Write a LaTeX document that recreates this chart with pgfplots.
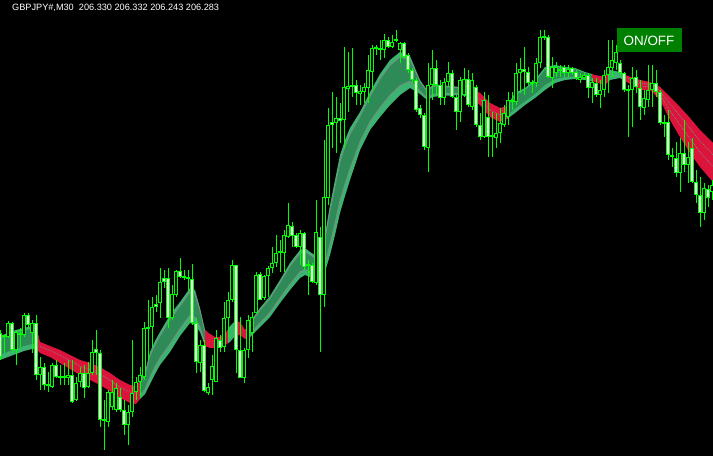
\documentclass[border=0pt]{standalone}
\usepackage{pgfplots}
\pgfplotsset{compat=1.18}
\usepackage{pgfplotstable}
\usepgfplotslibrary{fillbetween}
\usepackage{fontspec}
\setmainfont{Liberation Sans}
\definecolor{lightg}{RGB}{60,179,113}
\definecolor{darkg}{RGB}{46,139,87}
\definecolor{crim}{RGB}{220,20,60}
\definecolor{btn}{RGB}{0,128,0}
\definecolor{lime}{RGB}{0,255,0}
\definecolor{mgray}{RGB}{128,140,134}

\pgfplotstableread{
x t b
0 336 360
8 333 357
16 330 354
24 328 351
32 326 349
36 326 349
40 342 353
50 346 357
60 350 363
70 355 369
80 360 375
90 363 380
100 367 385
110 373 391
120 380 398
130 385 403
136 386 404
140 381 399
145 372 394
150 352 384
155 341 374
160 332 365
170 315 352
180 302 336
190 288 323
195 290 325
200 308 332
205 330 346
210 334 348
215 337 348
220 337 347
225 334 345
230 326 342
235 321 336
240 322 335
245 330 339
250 322 337
260 308 327
270 296 317
280 280 303
290 263 290
300 250 278
305 248 275
310 252 277
318 257 280
325 235 272
330 205 255
335 180 235
340 155 213
345 140 196
350 128 180
360 112 150
370 92 130
380 74 117
390 60 105
400 52 95
410 56 88
420 80 94
427 90 100
433 85 97
440 85 96
460 87 95
470 88 97
480 93 105
490 103 117
500 108 122
507 106 119
515 93 113
525 88 105
535 80 98
545 67 90
555 65 83
565 67 80
575 68 79
585 72 80
595 75 82
605 77 85
610 70 80
620 72 78
625 75 81
640 80 90
650 82 90
660 87 100
670 97 120
680 107 137
690 118 153
700 130 167
713 143 182
}\rib

\pgfplotstableread{
x o h l c
0 333 330 360 357
4 337 335 353 335
8 337 321 338 323
12 323 322 353 350
16 350 330 365 332
20 335 328 347 333
24 335 313 337 315
28 315 313 328 325
32 333 320 353 323
36 323 315 380 375
40 375 357 390 367
44 367 363 390 385
48 385 372 392 385
52 387 363 388 365
56 365 360 378 377
60 377 365 385 377
64 377 363 385 377
68 378 360 385 375
72 375 360 403 402
76 400 377 401 383
80 382 367 387 373
84 373 365 398 388
88 387 362 388 373
92 373 340 375 352
96 349 330 375 353
100 353 350 427 420
104 420 400 450 420
108 422 390 427 392
112 407 380 410 392
116 410 383 412 388
120 397 388 412 410
124 410 400 435 425
128 425 405 445 412
132 412 340 417 393
136 392 377 400 382
140 382 367 397 375
144 377 322 380 328
148 327 300 360 329
152 327 297 347 307
156 304 295 312 307
160 303 268 318 282
164 278 270 288 282
168 278 268 328 318
172 318 285 320 294
176 295 270 297 271
180 271 258 278 277
184 277 270 280 277
188 277 270 290 279
192 279 264 325 323
196 323 318 373 362
200 363 340 372 345
204 345 340 392 391
208 393 383 395 387
212 380 355 395 366
216 382 330 382 338
220 340 335 352 348
224 347 302 352 318
228 318 292 338 300
232 300 260 302 265
236 265 265 373 350
240 350 317 378 378
244 378 348 383 350
248 350 315 358 320
252 333 312 352 317
256 313 272 313 275
260 274 272 300 300
264 298 275 300 276
268 276 266 297 268
272 268 247 273 263
276 263 235 267 253
280 252 240 272 252
284 253 230 272 235
288 237 203 238 225
292 226 222 247 236
296 235 233 248 247
300 247 230 265 233
304 233 232 270 267
308 265 260 295 265
312 265 263 283 282
316 283 200 285 232
320 237 227 352 295
324 295 140 307 197
328 198 108 205 125
332 122 92 148 125
336 123 97 153 118
340 118 103 143 121
344 120 47 148 87
348 89 52 112 86
352 87 48 97 85
356 85 80 105 93
360 94 85 105 91
364 92 83 103 87
368 88 55 103 70
372 72 45 90 48
376 48 45 55 48
380 50 40 60 48
384 50 34 58 40
388 40 37 48 47
392 47 35 48 42
396 40 30 42 40
400 50 42 63 43
404 43 42 58 57
408 55 53 73 70
412 70 68 83 80
416 80 78 112 110
420 108 105 118 115
424 115 113 150 147
428 148 63 172 85
432 85 50 100 68
436 68 60 95 85
440 85 80 105 98
444 98 78 105 82
448 82 62 87 73
452 73 70 98 97
456 97 95 130 112
460 112 77 122 80
464 95 68 97 79
468 79 70 107 105
472 107 73 110 80
476 87 85 127 125
480 125 113 140 137
484 137 92 138 100
488 117 95 157 137
492 136 112 157 136
496 138 113 148 133
500 133 108 143 123
504 125 105 127 113
508 117 92 125 100
512 101 92 110 101
516 102 63 105 73
520 73 58 93 69
524 69 47 95 72
528 72 67 85 83
532 83 80 93 83
536 83 58 87 63
540 63 30 68 37
544 37 30 40 37
548 37 35 78 77
552 78 57 88 67
556 73 62 77 67
560 70 65 77 70
564 67 65 77 73
568 73 65 77 69
572 68 67 75 73
576 72 70 80 78
580 80 73 83 77
584 78 73 80 75
588 75 73 98 88
592 88 78 103 82
596 83 78 97 95
600 95 80 108 90
604 90 70 97 75
608 75 40 93 67
612 68 40 77 60
616 63 45 70 52
620 63 60 75 73
624 73 72 92 90
628 90 85 137 90
632 90 67 127 78
636 77 70 93 87
640 88 80 120 107
644 108 90 115 98
648 100 65 107 90
652 90 65 107 83
656 83 70 97 92
660 92 90 125 123
664 123 115 137 123
668 122 110 160 155
672 156 148 167 156
676 158 142 177 173
680 173 138 192 153
684 153 120 172 165
688 165 142 183 157
692 148 138 183 182
696 182 170 203 195
700 195 177 227 213
704 213 183 220 188
708 189 185 207 198
712 192 180 200 185
}\cdl

\pgfplotsset{candle/.style={draw=none, mark=none, mark options={draw=none, fill=none},
  error bars/y dir=both, error bars/y explicit, error bars/error mark=none}}

\begin{document}
\begin{tikzpicture}
\begin{axis}[
  scale only axis, width=713bp, height=456bp,
  xmin=0, xmax=713, ymin=0, ymax=456, y dir=reverse,
  axis line style={draw=none}, ticks=none,
  axis background/.style={fill=black},
  clip=true,
]
% ribbon
\addplot[draw=none, mark=none, name path=T] table[x=x,y=t]{\rib};
\addplot[draw=none, mark=none, name path=B] table[x=x,y=b]{\rib};
\addplot[draw=none, mark=none, name path=T2] table[x=x,y expr={\thisrow{t}+0.12*(\thisrow{b}-\thisrow{t})}]{\rib};
\addplot[draw=none, mark=none, name path=B2] table[x=x,y expr={\thisrow{b}-0.22*(\thisrow{b}-\thisrow{t})}]{\rib};
\addplot[fill=lightg, draw=none] fill between[of=T and B, soft clip={domain=0:38}];
\addplot[fill=crim, draw=none] fill between[of=T and B, soft clip={domain=38:140}];
\addplot[fill=lightg, draw=none] fill between[of=T and B, soft clip={domain=140:205}];
\addplot[fill=crim, draw=none] fill between[of=T and B, soft clip={domain=205:228}];
\addplot[fill=lightg, draw=none] fill between[of=T and B, soft clip={domain=228:235}];
\addplot[fill=crim, draw=none] fill between[of=T and B, soft clip={domain=235:248}];
\addplot[fill=lightg, draw=none] fill between[of=T and B, soft clip={domain=248:470}];
\addplot[fill=crim, draw=none] fill between[of=T and B, soft clip={domain=470:507}];
\addplot[fill=lightg, draw=none] fill between[of=T and B, soft clip={domain=507:592}];
\addplot[fill=crim, draw=none] fill between[of=T and B, soft clip={domain=592:608}];
\addplot[fill=lightg, draw=none] fill between[of=T and B, soft clip={domain=608:625}];
\addplot[fill=crim, draw=none] fill between[of=T and B, soft clip={domain=625:713}];
% inner dark band
\addplot[fill=darkg, draw=none] fill between[of=T2 and B2, soft clip={domain=0:38}];
\addplot[fill=darkg, draw=none] fill between[of=T2 and B2, soft clip={domain=140:205}];
\addplot[fill=darkg, draw=none] fill between[of=T2 and B2, soft clip={domain=248:470}];
\addplot[fill=darkg, draw=none] fill between[of=T2 and B2, soft clip={domain=507:592}];
% moving-average lines inside the ribbon
\addplot[mgray, line width=0.7bp, mark=none, restrict x to domain=140:205] table[x=x,y expr={\thisrow{t}+0.12*(\thisrow{b}-\thisrow{t})}]{\rib};
\addplot[mgray, line width=0.7bp, mark=none, restrict x to domain=140:205] table[x=x,y expr={\thisrow{b}-0.22*(\thisrow{b}-\thisrow{t})}]{\rib};
\addplot[mgray, line width=0.7bp, mark=none, restrict x to domain=250:470] table[x=x,y expr={\thisrow{t}+0.12*(\thisrow{b}-\thisrow{t})}]{\rib};
\addplot[mgray, line width=0.7bp, mark=none, restrict x to domain=250:470] table[x=x,y expr={\thisrow{b}-0.22*(\thisrow{b}-\thisrow{t})}]{\rib};
\addplot[mgray, line width=0.7bp, mark=none, densely dotted, restrict x to domain=40:136] table[x=x,y expr={\thisrow{t}+0.4*(\thisrow{b}-\thisrow{t})}]{\rib};
\addplot[mgray, line width=0.7bp, mark=none, densely dotted, restrict x to domain=625:713] table[x=x,y expr={\thisrow{t}+0.3*(\thisrow{b}-\thisrow{t})}]{\rib};
\addplot[mgray, line width=0.7bp, mark=none, densely dotted, restrict x to domain=640:713] table[x=x,y expr={\thisrow{t}+0.6*(\thisrow{b}-\thisrow{t})}]{\rib};
\addplot[mgray, line width=0.7bp, mark=none, densely dotted, restrict x to domain=470:507] table[x=x,y expr={\thisrow{t}+0.5*(\thisrow{b}-\thisrow{t})}]{\rib};
% wicks
\addplot[candle, error bars/error bar style={draw=lime, line width=1bp}]
  table[x=x, y expr={(\thisrow{h}+\thisrow{l})/2}, y error expr={(\thisrow{l}-\thisrow{h})/2}]{\cdl};
% bodies outline
\addplot[candle, error bars/error bar style={draw=lime, line width=3.8bp}]
  table[x=x, y expr={(\thisrow{o}+\thisrow{c})/2}, y error expr={max(abs(\thisrow{o}-\thisrow{c})/2,0.6)}]{\cdl};
% bearish (white)
\addplot[candle, restrict expr to domain={\thisrow{c}-\thisrow{o}}{2.5:1000},
  error bars/error bar style={draw=white, line width=1.8bp}]
  table[x=x, y expr={(\thisrow{o}+\thisrow{c})/2}, y error expr={abs(\thisrow{o}-\thisrow{c})/2-1}]{\cdl};
% bullish (black)
\addplot[candle, restrict expr to domain={\thisrow{o}-\thisrow{c}}{2.5:1000},
  error bars/error bar style={draw=black, line width=1.8bp}]
  table[x=x, y expr={(\thisrow{o}+\thisrow{c})/2}, y error expr={abs(\thisrow{o}-\thisrow{c})/2-1}]{\cdl};
% labels
\node[anchor=base west, text=white, inner sep=0pt, font=\fontsize{9.2}{10}\selectfont] at (axis cs:12,11) {GBPJPY\#,M30\ \ 206.330 206.332 206.243 206.283};
\fill[btn] (axis cs:617,28) rectangle (axis cs:682,52);
\node[anchor=base, text=white, inner sep=0pt, font=\fontsize{13.5}{14}\selectfont] at (axis cs:649,46) {ON/OFF};
\end{axis}
\end{tikzpicture}
\end{document}
